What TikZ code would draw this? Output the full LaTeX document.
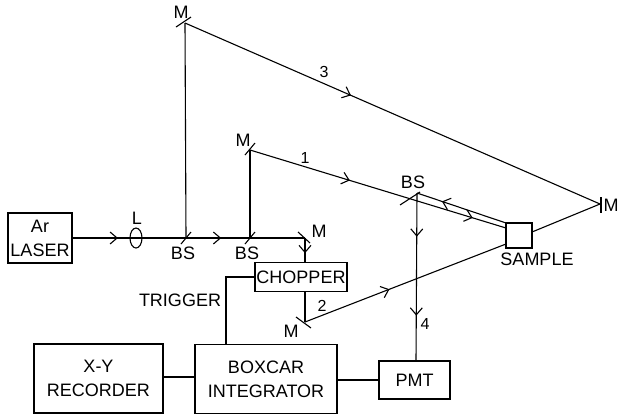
\documentclass[tikz,border=0pt]{standalone}
\usepackage{fontspec}
\setmainfont{Liberation Sans}
\usetikzlibrary{arrows.meta,decorations.markings}

\begin{document}
\begin{tikzpicture}[
  x=1pt, y=-1pt, line width=1.1pt,
  box/.style={draw, inner sep=0pt, align=center, font=\fontsize{18}{24}\selectfont},
  lbl/.style={inner sep=0pt, font=\fontsize{18}{20}\selectfont},
  tag/.style={inner sep=0pt, font=\fontsize{16}{18}\selectfont},
  beam/.style={decoration={markings, mark=at position #1 with
               {\arrow{Straight Barb[length=7pt,width=12pt,line width=1.1pt]}}},
               postaction=decorate}
]
\useasboundingbox (0,0) rectangle (618,416);
% boxes
\node[box, minimum width=64pt, minimum height=50pt] (laser) at (40,238) {Ar\\LASER};
\node[box, minimum width=92pt, minimum height=29pt] (chopper) at (301,277) {CHOPPER};
\node[box, minimum width=142pt, minimum height=69pt] (boxcar) at (266,379) {BOXCAR\\INTEGRATOR};
\node[box, minimum width=129pt, minimum height=69pt] (recorder) at (98.5,378.5) {X-Y\\RECORDER};
\node[box, minimum width=71pt, minimum height=38pt] (pmt) at (414.5,380) {PMT};
\node[box, minimum width=26pt, minimum height=25pt] (sample) at (519,235.5) {};
\draw (136,238) ellipse (6pt and 10pt) node (lens) {};
% beam points
\coordinate (bsa) at (186,238);
\coordinate (bsb) at (250,238);
\coordinate (mchop) at (305,238);
\coordinate (mtop) at (185,23);
\coordinate (mmid) at (250,150);
\coordinate (mlow) at (305,322);
\coordinate (mright) at (600,204);
\coordinate (bsc) at (417,193);
\coordinate (sampa) at (506,223);
\coordinate (sampb) at (506,228);
\coordinate (sampc) at (506,244);
\coordinate (sampd) at (532,232);
\coordinate (chopin) at (305,262.5);
\coordinate (chopout) at (305,291.5);
\coordinate (pmtin) at (416,361);
\coordinate (reclink) at (163,377);
\coordinate (trigtop) at (226,277);
% mirrors
\draw (176,27) -- (191,17);
\draw (245,155) -- (255,143);
\draw (181,244) -- (191,232);
\draw (245,244) -- (255,232);
\draw (298,232) -- (310,243);
\draw (296,317) -- (311,328);
\draw (400,205) -- (420,192);
\draw (601,197) -- (601,213);
% beams
\draw[beam=0.40] (laser.east) -- (bsa);
\draw[beam=0.55] (bsa) -- (bsb);
\draw (bsb) -- (mchop);
\draw[beam=0.62] (mchop) -- (chopin);
\draw (chopout) -- (mlow);
\draw (bsa) -- (mtop);
\draw (bsb) -- (mmid);
\draw[beam=0.40] (mtop) -- (mright);
\draw[beam=0.39] (mmid) -- (sampb);
\draw[beam=0.42] (mlow) -- (sampc);
\draw (sampd) -- (mright);
\draw[beam=0.72] (sampa) -- (bsc);
\path[beam=0.87] (mmid) -- (sampb);
\draw[beam=0.26] (bsc) -- (pmtin);
\path[beam=0.73] (bsc) -- (pmtin);
% electronics
\draw (reclink) -- (reclink -| boxcar.west);
\draw (boxcar.east |- pmt.west) -- (pmt.west);
\draw (chopper.west |- trigtop) -- (trigtop) -- (trigtop |- boxcar.north);
% labels
\node[lbl] (lname) at (137,218) {L};
\node[lbl] (bsaname) at (183,253) {BS};
\node[lbl] (bsbname) at (247,253) {BS};
\node[lbl] (bscname) at (413,182) {BS};
\node[lbl] (mtopname) at (181,12) {M};
\node[lbl] (mmidname) at (243,140) {M};
\node[lbl] (mchopname) at (319,231) {M};
\node[lbl] (mlowname) at (291,331) {M};
\node[lbl] (mrightname) at (611,205) {M};
\node[lbl] (trigname) at (180,300) {TRIGGER};
\node[lbl] (sampname) at (537,259) {SAMPLE};
\node[tag] (numa) at (305,158) {1};
\node[tag] (numb) at (322,306) {2};
\node[tag] (numc) at (324,72) {3};
\node[tag] (numd) at (425,324) {4};
\end{tikzpicture}
\end{document}
